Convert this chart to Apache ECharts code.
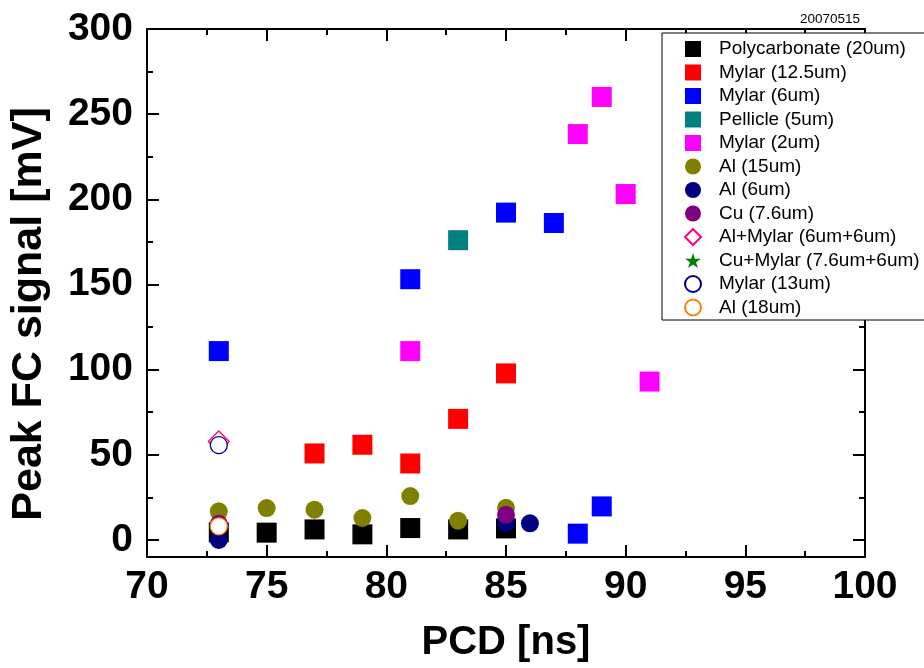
<!DOCTYPE html>
<html>
<head>
<meta charset="utf-8">
<script src="https://cdn.jsdelivr.net/npm/echarts@6/dist/echarts.min.js"></script>
<style>
html,body{margin:0;padding:0;background:#fff;}
#chart{width:924px;height:668px;}
</style>
</head>
<body>
<div id="chart"></div>
<script>
// ---- data (PCD [ns], Peak FC signal [mV]) ----
const polycarbonate20 = [[73,4.5],[75,4.3],[77,6.2],[79,3.3],[81,7.0],[83,6.2],[85,6.8]];
const mylar12_5 = [[77,50.8],[79,55.9],[81,44.9],[83,71.1],[85,97.8]];
const mylar6 = [[73,110.9],[81,153.1],[85,192.2],[87,186.1],[88,3.7],[89,19.7]];
const pellicle5 = [[83,176.0]];
const mylar2 = [[81,110.9],[88,238.3],[89,260.1],[90,203.1],[91,93.0]];
const al15 = [[73,16.8],[75,18.7],[77,17.8],[79,12.9],[81,25.8],[83,11.3],[85,18.9]];
const al6 = [[73,0.0],[85,10.0],[86,9.8]];
const cu7_6 = [[73,9.5],[85,14.8]];
const alMylar = [[73,57.8]];
const cuMylar = [];
const mylar13 = [[73,55.7]];
const al18 = [[73,8.0]];

const seriesNames = ['Polycarbonate (20um)','Mylar (12.5um)','Mylar (6um)','Pellicle (5um)','Mylar (2um)',
  'Al (15um)','Al (6um)','Cu (7.6um)','Al+Mylar (6um+6um)','Cu+Mylar (7.6um+6um)','Mylar (13um)','Al (18um)'];

const xTicksMin = 70, xTicksMax = 100, xTickStep = 5;
const yMajorTicks = [0,50,100,150,200,250,300];
const yMinorTicks = [25,75,125,175,225,275];
const stampText = '20070515';

const FONT = "'Liberation Sans', Arial, sans-serif";
const STAR = 'path://M50,0 L61.2,34.5 L97.6,34.5 L68.2,55.9 L79.4,90.5 L50,69.1 L20.6,90.5 L31.8,55.9 L2.4,34.5 L38.8,34.5 Z';

function sc(name, data, symbol, size, style, z) {
  style.opacity = 1;
  return {
    type: 'scatter', name: name, data: data, symbol: symbol, symbolSize: size,
    xAxisIndex: 0, yAxisIndex: 0, itemStyle: style, z: z,
    emphasis: {disabled: true}
  };
}

const series = [
  sc(seriesNames[0], polycarbonate20, 'rect', 20, {color:'#000000'}, 2),
  sc(seriesNames[1], mylar12_5, 'rect', 20, {color:'#FF0000'}, 2),
  sc(seriesNames[2], mylar6, 'rect', 20, {color:'#0000FF'}, 2),
  sc(seriesNames[3], pellicle5, 'rect', 20, {color:'#008080'}, 2),
  sc(seriesNames[4], mylar2, 'rect', 20, {color:'#FF00FF'}, 2),
  sc(seriesNames[5], al15, 'circle', 18, {color:'#808000'}, 3),
  sc(seriesNames[6], al6, 'circle', 18, {color:'#000080'}, 3),
  sc(seriesNames[7], cu7_6, 'circle', 18, {color:'#800080'}, 3),
  sc(seriesNames[8], alMylar, 'diamond', 21, {color:'#ffffff', borderColor:'#FF0080', borderWidth:1.3}, 4),
  sc(seriesNames[9], cuMylar, STAR, 20, {color:'#008000'}, 4),
  sc(seriesNames[10], mylar13, 'circle', 17, {color:'#ffffff', borderColor:'#000080', borderWidth:1.3}, 5),
  sc(seriesNames[11], al18, 'circle', 17, {color:'#ffffff', borderColor:'#FF8000', borderWidth:1.3}, 5)
];

const axisLineStyle = {color:'#000', width:2};

const option = {
  animation: false,
  backgroundColor: '#ffffff',
  grid: {left:145, right:59, top:29, bottom:109, containLabel:false},
  legend: {
    orient: 'vertical', left: 662, top: 33,
    data: seriesNames,
    backgroundColor: '#ffffff', borderColor: '#000', borderWidth: 1, borderRadius: 0,
    padding: [6.5, 20, 3, 22],
    itemWidth: 16, itemHeight: 16, itemGap: 4.5,
    selectedMode: false,
    textStyle: {fontFamily: FONT, fontSize: 19, lineHeight: 19, color: '#000', padding: [0, 0, 0, 13]}
  },
  graphic: [{
    type: 'text', right: 64, top: 12,
    style: {text: stampText, font: "13.5px 'Liberation Sans', Arial, sans-serif", fill: '#000'}
  }],
  xAxis: [
    {
      type: 'value', position: 'bottom', min: xTicksMin, max: xTicksMax, interval: xTickStep,
      name: 'PCD [ns]', nameLocation: 'middle', nameGap: 66,
      nameTextStyle: {fontFamily: FONT, fontSize: 40, fontWeight: 'bold', color: '#000'},
      axisLine: {show: true, onZero: false, lineStyle: axisLineStyle},
      axisTick: {show: true, inside: true, length: 12, lineStyle: {color:'#000', width:2}},
      minorTick: {show: true, splitNumber: 2, length: 6, lineStyle: {color:'#000', width:2}},
      axisLabel: {fontFamily: FONT, fontSize: 39, fontWeight: 'bold', color: '#000', margin: 11},
      splitLine: {show: false}, minorSplitLine: {show: false}
    },
    {
      type: 'value', position: 'top', min: xTicksMin, max: xTicksMax, interval: xTickStep,
      axisLine: {show: true, onZero: false, lineStyle: axisLineStyle},
      axisTick: {show: true, inside: true, length: 12, lineStyle: {color:'#000', width:2}},
      minorTick: {show: true, splitNumber: 2, length: 6, lineStyle: {color:'#000', width:2}},
      axisLabel: {show: false}, splitLine: {show: false}
    }
  ],
  yAxis: [
    {
      type: 'value', position: 'left', min: -10, max: 300,
      name: 'Peak FC signal [mV]', nameLocation: 'middle', nameGap: 96, nameRotate: 90,
      nameTextStyle: {fontFamily: FONT, fontSize: 43, fontWeight: 'bold', color: '#000', padding: [0, 42, 0, 0]},
      axisLine: {show: true, onZero: false, lineStyle: axisLineStyle},
      axisTick: {show: true, inside: true, length: 12, customValues: yMajorTicks, lineStyle: {color:'#000', width:2}},
      axisLabel: {fontFamily: FONT, fontSize: 39, fontWeight: 'bold', color: '#000', margin: 14, customValues: yMajorTicks},
      splitLine: {show: false}
    },
    {
      type: 'value', position: 'left', min: -10, max: 300,
      axisLine: {show: false},
      axisTick: {show: true, inside: true, length: 6, customValues: yMinorTicks, lineStyle: {color:'#000', width:2}},
      axisLabel: {show: false}, splitLine: {show: false}
    },
    {
      type: 'value', position: 'right', min: -10, max: 300,
      axisLine: {show: true, onZero: false, lineStyle: axisLineStyle},
      axisTick: {show: true, inside: true, length: 12, customValues: yMajorTicks, lineStyle: {color:'#000', width:2}},
      axisLabel: {show: false}, splitLine: {show: false}
    },
    {
      type: 'value', position: 'right', min: -10, max: 300,
      axisLine: {show: false},
      axisTick: {show: true, inside: true, length: 6, customValues: yMinorTicks, lineStyle: {color:'#000', width:2}},
      axisLabel: {show: false}, splitLine: {show: false}
    }
  ],
  series: series
};

const chart = echarts.init(document.getElementById('chart'), null, {renderer: 'canvas'});
chart.setOption(option);
</script>
</body>
</html>
